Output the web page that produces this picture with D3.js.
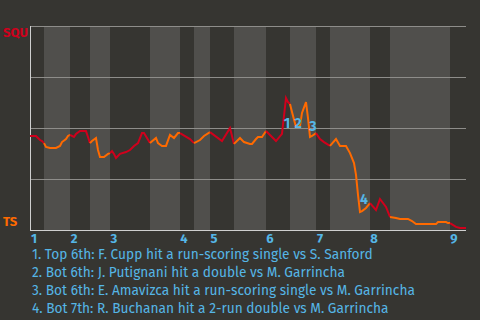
<!DOCTYPE html>
<html>
<head>
<meta charset="utf-8">
<script src="https://cdn.jsdelivr.net/npm/d3@7"></script>
<style>
  html, body { margin: 0; padding: 0; background: #363531; }
  svg { display: block; }
</style>
</head>
<body>
<svg></svg>
<script>
// play number (x) and SQU win probability in % (y)
var plays = [0, 3, 4, 5, 6, 7, 8, 10, 13, 15, 16, 18, 19, 20, 22, 23, 25, 28, 29, 30,
  31, 33, 34, 35, 37, 39, 40, 41, 42, 43, 45, 48, 50, 52, 54, 56, 57, 60, 63, 64,
  66, 68, 70, 72, 74, 75, 80, 82, 85, 87, 90, 96, 100, 102, 105, 107, 110, 111, 113, 114,
  116, 118, 123, 126, 128, 129, 130, 131, 133, 135, 136, 138, 139, 140, 141, 143, 145, 147, 150, 153,
  155, 158, 160, 162, 163, 164, 165, 166, 168, 170, 173, 175, 178, 180, 183, 185, 189, 191, 193, 203,
  204, 208, 209, 210, 213, 215, 218];
var squWp = [46.1, 46.1, 45.1, 44.1, 43.6, 42.6, 40.7, 40.2, 40.2, 41.2, 43.1, 44.6, 46.1, 46.6, 45.6, 47.1, 48.5, 48.5, 45.6, 42.6,
  43.6, 45.1, 39.2, 35.8, 35.8, 37.3, 37.7, 38.7, 37.3, 35.3, 37.3, 38.2, 39.2, 41.2, 42.6, 47.5, 47.5, 42.6, 45.1, 42.6,
  41.2, 41.2, 46.6, 45.1, 47.5, 47.5, 44.6, 42.6, 44.1, 46.1, 48.0, 43.6, 50.0, 42.2, 45.1, 43.1, 42.2, 42.2, 44.6, 45.6,
  45.6, 48.5, 43.6, 47.1, 64.7, 62.7, 61.8, 57.8, 50.5, 51.0, 57.4, 62.7, 54.9, 45.6, 46.1, 47.5, 44.6, 43.1, 41.2, 44.6,
  41.2, 41.2, 37.7, 32.8, 27.0, 17.2, 8.8, 9.3, 10.8, 13.2, 9.8, 15.2, 11.3, 6.4, 5.9, 5.4, 5.4, 4.4, 2.9, 2.9,
  3.9, 3.9, 3.4, 3.4, 1.5, 1.0, 1.0];

// first play of each half inning (top 1st, bottom 1st, top 2nd ...)
var halfStarts = [0, 7, 20, 30, 40, 60, 75, 82, 90, 102, 118, 130, 143, 150, 170, 180, 210];
var lastPlay = 218;
var innings = ["1", "2", "3", "4", "5", "6", "7", "8", "9"];

var noteLabels = ["1", "2", "3", "4"];
var notePlay = [128.5, 134, 141.5, 167];
var noteWp = [50, 50, 48.5, 12.7];
var notes = [
  "1. Top 6th: F. Cupp hit a run-scoring single vs S. Sanford",
  "2. Bot 6th: J. Putignani hit a double vs M. Garrincha",
  "3. Bot 6th: E. Amavizca hit a run-scoring single vs M. Garrincha",
  "4. Bot 7th: R. Buchanan hit a 2-run double vs M. Garrincha"
];
var teams = ["SQU", "TS"];

var width = 480, height = 320;
var red = "#d0001c", orange = "#ff6a00", blue = "#55b6e6";
var font = "'Fira Sans', 'Liberation Sans Narrow', 'Noto Sans', sans-serif";

var svg = d3.select("svg").attr("width", width).attr("height", height);

var x = d3.scaleLinear().domain([0, lastPlay]).range([30, 466]);
var y = d3.scaleLinear().domain([0, 100]).range([230, 26]);

// half inning bands, bottom halves shaded
var bounds = halfStarts.concat([lastPlay]);
svg.append("g").selectAll("rect")
    .data(halfStarts)
    .enter().append("rect")
    .attr("x", function(d) { return x(d); })
    .attr("y", y(100))
    .attr("width", function(d, i) { return x(bounds[i + 1]) - x(d); })
    .attr("height", y(0) - y(100))
    .attr("fill", function(d, i) { return i % 2 ? "#504f4c" : "none"; });

// gridlines
svg.append("g").selectAll("line")
    .data([25, 50, 75, 100])
    .enter().append("line")
    .attr("x1", x(0)).attr("x2", x(lastPlay))
    .attr("y1", function(d) { return y(d) + 0.5; })
    .attr("y2", function(d) { return y(d) + 0.5; })
    .attr("stroke", "#8e8d8a").attr("stroke-width", 1);

// axis lines
svg.append("line")
    .attr("x1", x(0) + 0.5).attr("x2", x(0) + 0.5)
    .attr("y1", y(100)).attr("y2", y(0) + 1)
    .attr("stroke", "#cfcfcf");
svg.append("line")
    .attr("x1", x(0)).attr("x2", x(lastPlay))
    .attr("y1", y(0) + 0.5).attr("y2", y(0) + 0.5)
    .attr("stroke", "#cfcfcf");

// win probability line, one path per half inning
var pts = plays.map(function(p, i) { return [p, squWp[i]]; });
var line = d3.line()
    .x(function(d) { return x(d[0]); })
    .y(function(d) { return y(d[1]); });

svg.append("g").selectAll("path")
    .data(halfStarts)
    .enter().append("path")
    .attr("d", function(d, i) {
        return line(pts.filter(function(p) { return p[0] >= d && p[0] <= bounds[i + 1]; }));
    })
    .attr("fill", "none")
    .attr("stroke", function(d, i) { return i % 2 ? orange : red; })
    .attr("stroke-width", 2)
    .attr("stroke-linejoin", "miter");

// team labels
svg.append("text").text(teams[0])
    .attr("x", 3).attr("y", y(100) + 11)
    .attr("fill", red).attr("font-family", font)
    .attr("font-weight", "bold").attr("font-size", 13);
svg.append("text").text(teams[1])
    .attr("x", 3).attr("y", y(0) - 4)
    .attr("fill", orange).attr("font-family", font)
    .attr("font-weight", "bold").attr("font-size", 13);

// inning labels at the top half starts
svg.append("g").selectAll("text")
    .data(innings)
    .enter().append("text")
    .text(function(d) { return d; })
    .attr("x", function(d, i) { return x(halfStarts[i * 2]) + 4; })
    .attr("y", 243)
    .attr("text-anchor", "middle")
    .attr("fill", blue).attr("font-family", font)
    .attr("font-weight", "bold").attr("font-size", 13);

// play markers on the chart
svg.append("g").selectAll("text")
    .data(noteLabels)
    .enter().append("text")
    .text(function(d) { return d; })
    .attr("x", function(d, i) { return x(notePlay[i]); })
    .attr("y", function(d, i) { return y(noteWp[i]); })
    .attr("text-anchor", "middle")
    .attr("fill", blue).attr("font-family", font)
    .attr("font-weight", "bold").attr("font-size", 14);

// notes under the chart
svg.append("g").selectAll("text")
    .data(notes)
    .enter().append("text")
    .text(function(d) { return d; })
    .attr("x", 32)
    .attr("y", function(d, i) { return 259 + i * 18; })
    .attr("fill", blue).attr("font-family", font)
    .attr("font-size", 13.7);
</script>
</body>
</html>
